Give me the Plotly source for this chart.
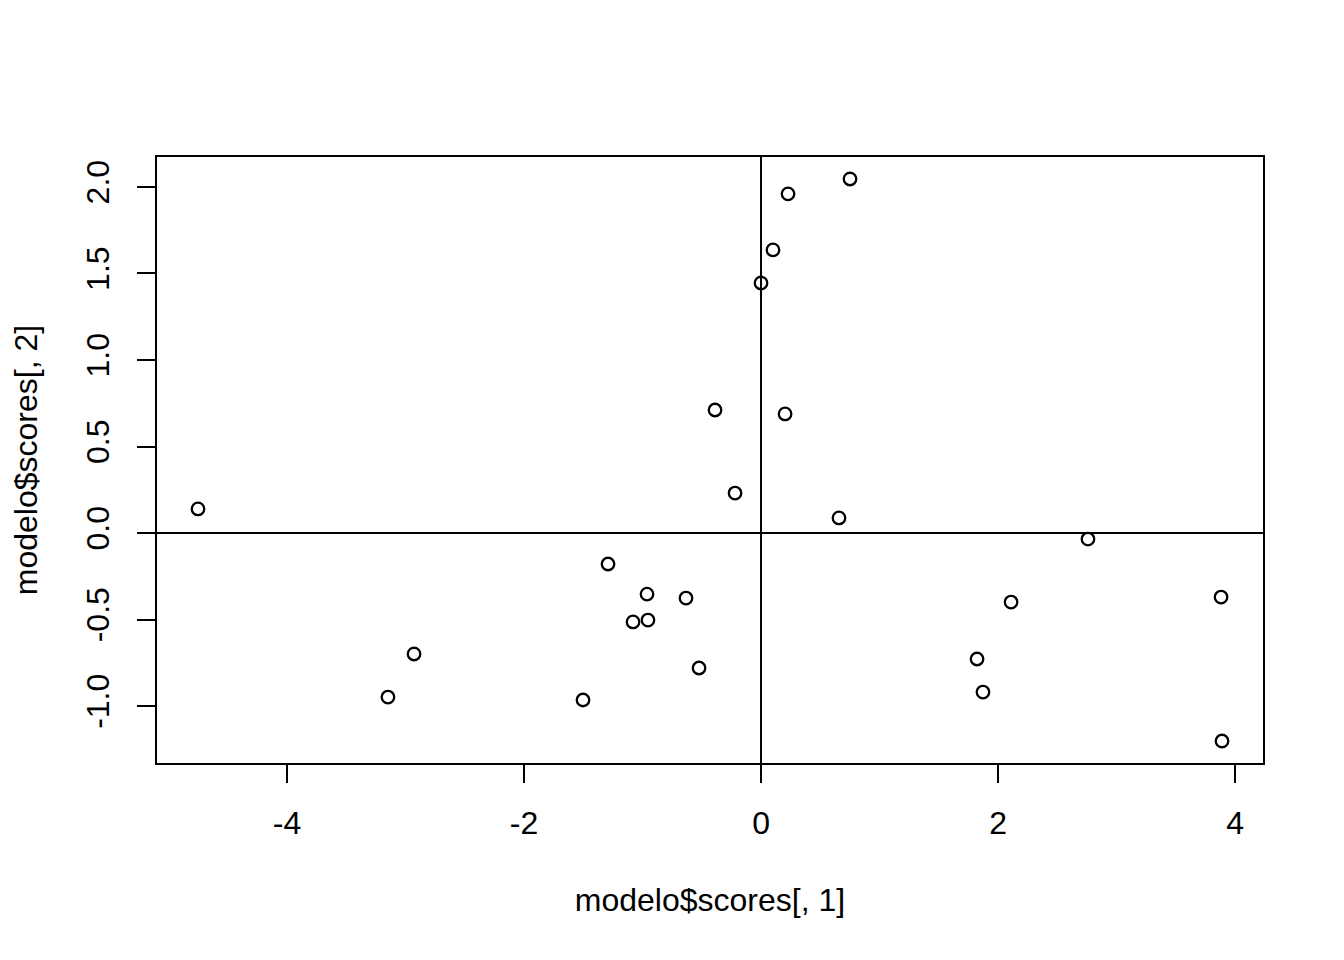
import plotly.graph_objects as go

x_scores = [-4.751, -2.928, -3.148, -1.502, -1.291, -0.962, -1.080, -0.954, -0.633, -0.523,
            -0.388, -0.219, 0.000, 0.101, 0.228, 0.751, 0.203, 0.658, 2.759, 1.823,
            1.873, 2.110, 3.882, 3.890]
y_scores = [0.139, -0.699, -0.948, -0.965, -0.179, -0.353, -0.514, -0.503, -0.376, -0.780,
            0.711, 0.231, 1.445, 1.636, 1.960, 2.046, 0.688, 0.087, -0.035, -0.728,
            -0.919, -0.399, -0.370, -1.202]
x_ticks = [-4, -2, 0, 2, 4]
y_ticks = [-1.0, -0.5, 0.0, 0.5, 1.0, 1.5, 2.0]
y_tick_labels = ["-1.0", "-0.5", "0.0", "0.5", "1.0", "1.5", "2.0"]

font = dict(family="Liberation Sans, Arial, sans-serif", size=32, color="black")

fig = go.Figure()
fig.add_trace(go.Scatter(
    x=x_scores, y=y_scores, mode="markers",
    marker=dict(symbol="circle-open", size=12.5, color="black", line=dict(width=2.3, color="black")),
    showlegend=False, hoverinfo="skip"))

fig.add_hline(y=0, line=dict(color="black", width=2))
fig.add_vline(x=0, line=dict(color="black", width=2))

fig.update_layout(
    width=1336, height=944,
    margin=dict(l=149, r=81, t=149, b=189),
    paper_bgcolor="white", plot_bgcolor="white",
    font=font,
)
fig.update_xaxes(
    range=[-5.097, 4.236], tickvals=x_ticks, ticktext=[str(v) for v in x_ticks],
    showgrid=False, zeroline=False, showline=True, mirror=True, linecolor="black", linewidth=2,
    ticks="outside", ticklen=18, tickwidth=2, tickcolor="black", ticklabelstandoff=13,
    tickfont=font, automargin=False,
    title=dict(text="modelo$scores[, 1]", font=font, standoff=48),
)
fig.update_yaxes(
    range=[-1.329, 2.173], tickvals=y_ticks, ticktext=y_tick_labels, tickangle=-90,
    showgrid=False, zeroline=False, showline=True, mirror=True, linecolor="black", linewidth=2,
    ticks="outside", ticklen=18, tickwidth=2, tickcolor="black", ticklabelstandoff=15,
    tickfont=font, automargin=False,
    title=dict(text="modelo$scores[, 2]", font=font, standoff=38),
)

fig.write_html("out.html")
